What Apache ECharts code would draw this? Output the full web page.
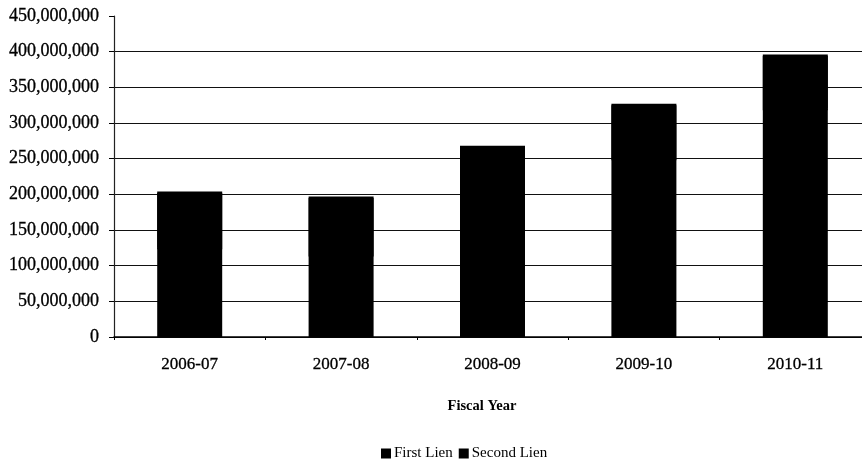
<!DOCTYPE html>
<html>
<head>
<meta charset="utf-8">
<script src="https://cdn.jsdelivr.net/npm/echarts@6/dist/echarts.min.js"></script>
<style>
  html, body { margin: 0; padding: 0; background: #fff; overflow: hidden; }
  #chart { width: 872px; height: 460px; }
</style>
</head>
<body>
<div id="chart"></div>
<script>
// Lien amounts by fiscal year (dollars)
const fiscalYears = ['2006-07', '2007-08', '2008-09', '2009-10', '2010-11'];
const firstLien  = [125000000, 115000000, 180000000, 250000000, 320000000];
const secondLien = [79000000, 82000000, 88000000, 77000000, 76000000];
const yTicks = [0, 50000000, 100000000, 150000000, 200000000, 250000000, 300000000, 350000000, 400000000, 450000000];

const serif = "'Liberation Serif', 'DejaVu Serif', serif";
const fmt = v => v.toLocaleString('en-US');

// grid lines at every tick except the top one
const gridColors = yTicks.map((t, i) => i === yTicks.length - 1 ? 'rgba(0,0,0,0)' : '#111');

const chart = echarts.init(document.getElementById('chart'), null, { renderer: 'canvas' });
chart.setOption({
  animation: false,
  backgroundColor: '#fff',
  title: {
    text: 'Fiscal Year',
    left: 477,
    top: 394,
    textAlign: 'center',
    textStyle: { fontFamily: serif, fontSize: 14.5, fontWeight: 'bold', color: '#000' }
  },
  legend: {
    data: ['First Lien', 'Second Lien'],
    left: 376,
    top: 441,
    itemWidth: 10,
    itemHeight: 10,
    itemGap: 6,
    icon: 'rect',
    textStyle: { fontFamily: serif, fontSize: 15, color: '#000', padding: [0, 0, 0, -2] }
  },
  grid: { left: 114, top: 16, width: 757, height: 321, containLabel: false },
  xAxis: {
    type: 'category',
    data: fiscalYears,
    axisLine: { lineStyle: { color: '#000', width: 1.5 } },
    axisTick: { show: true, length: 3, lineStyle: { color: '#000' } },
    axisLabel: {
      fontFamily: serif, fontSize: 17, color: '#000', margin: 19,
      textBorderColor: '#000', textBorderWidth: 0.3
    }
  },
  yAxis: {
    type: 'value',
    min: 0,
    max: 450000000,
    interval: 50000000,
    axisLine: { show: true, lineStyle: { color: '#222', width: 1.2 } },
    axisTick: { show: true, length: 5, lineStyle: { color: '#000' } },
    axisLabel: {
      fontFamily: serif, fontSize: 18, color: '#000', margin: 15,
      textBorderColor: '#000', textBorderWidth: 0.3,
      formatter: v => fmt(v)
    },
    splitLine: { show: true, lineStyle: { color: gridColors, width: 1.2 } }
  },
  series: [
    {
      name: 'First Lien',
      type: 'bar',
      stack: 'lien',
      barWidth: 65,
      itemStyle: { color: '#000' },
      data: firstLien
    },
    {
      name: 'Second Lien',
      type: 'bar',
      stack: 'lien',
      barWidth: 65,
      // a hard 1px black shadow closes the anti-aliased join with the segment below
      itemStyle: { color: '#000', shadowColor: '#000', shadowBlur: 0, shadowOffsetY: 1.5 },
      data: secondLien
    }
  ]
});
</script>
</body>
</html>
